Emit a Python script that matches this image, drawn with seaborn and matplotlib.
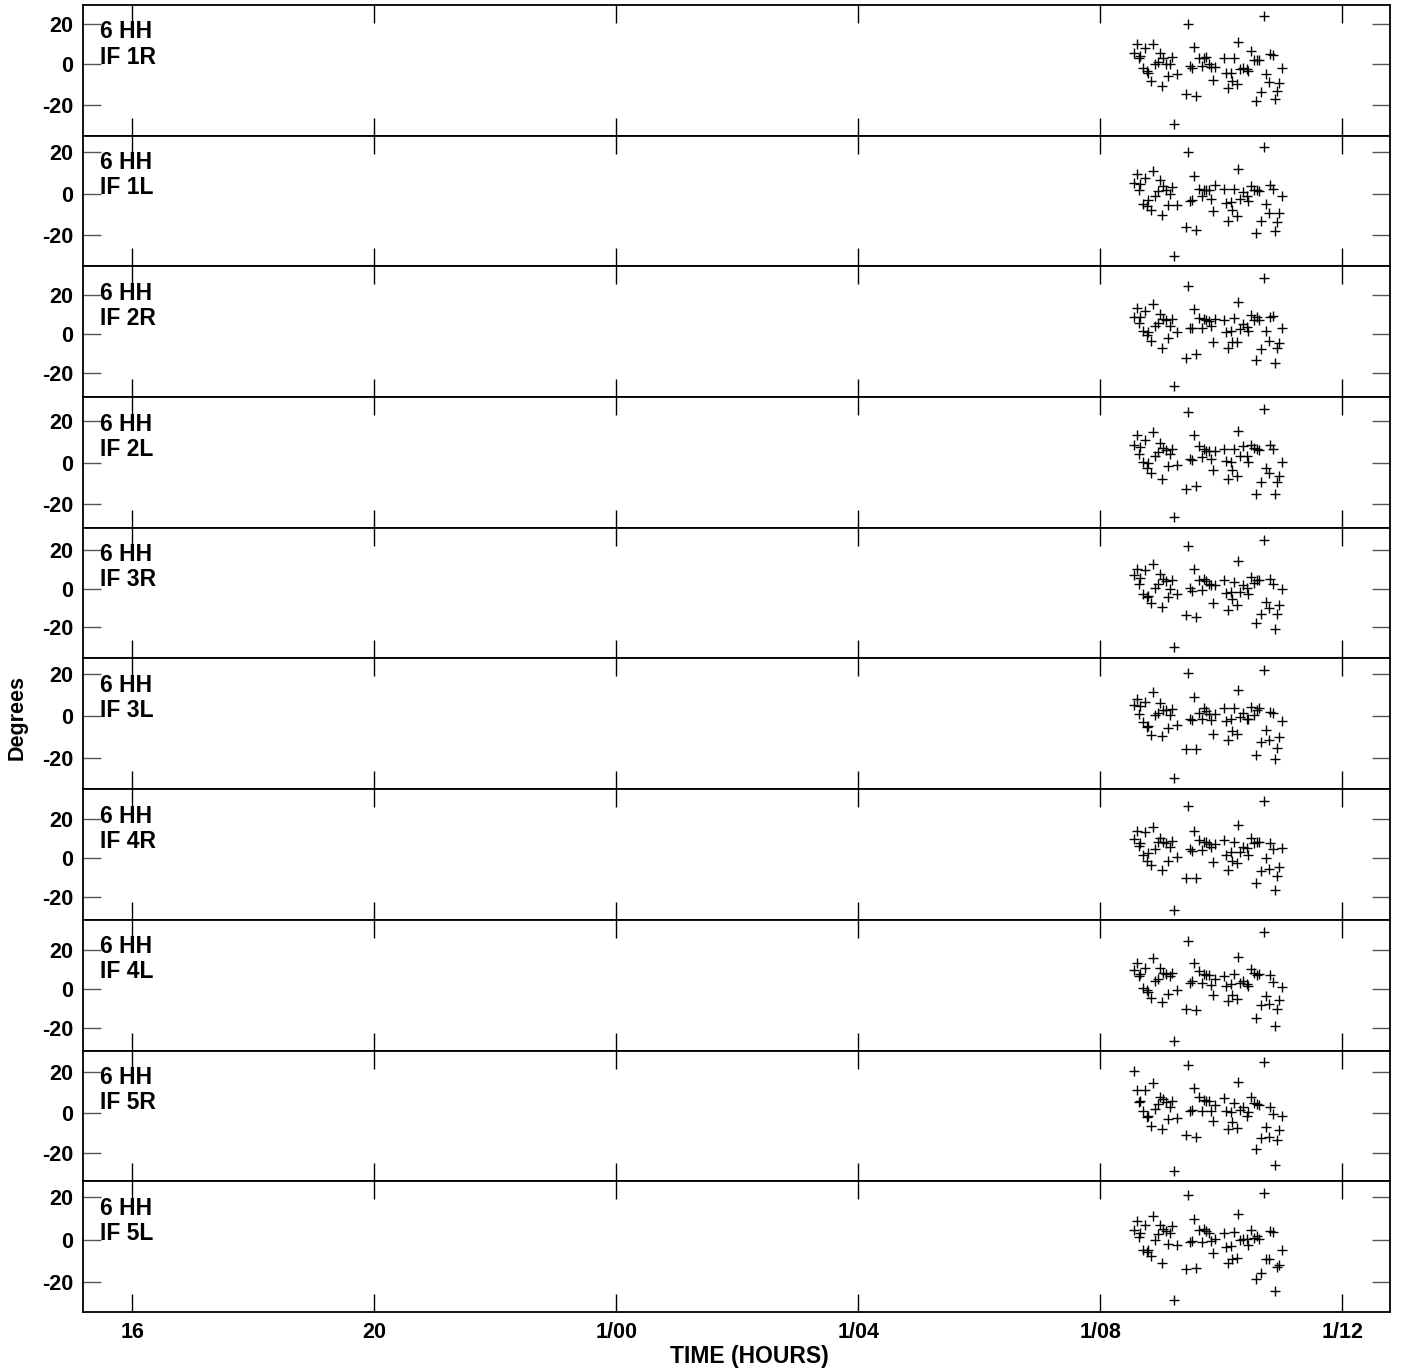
import matplotlib
matplotlib.use("Agg")
import matplotlib.pyplot as plt
import numpy as np
import pandas as pd
import seaborn as sns

# ---------------- data ----------------
times = [32.557, 32.601, 32.640, 32.662, 32.700, 32.739, 32.772, 32.794, 32.838, 32.866,
         32.910, 32.948, 32.987, 33.014, 33.042, 33.080, 33.125, 33.152, 33.191, 33.218,
         33.268, 33.417, 33.450, 33.477, 33.521, 33.554, 33.582, 33.637, 33.675, 33.720,
         33.742, 33.791, 33.830, 33.857, 33.896, 34.039, 34.083, 34.116, 34.155, 34.182,
         34.210, 34.254, 34.282, 34.315, 34.359, 34.425, 34.447, 34.485, 34.541, 34.568,
         34.590, 34.623, 34.656, 34.700, 34.744, 34.789, 34.811, 34.855, 34.893, 34.921,
         34.948, 34.998]

if_1r = [5.7, 10.0, 3.2, 4.0, -1.7, 8.2, -3.5, -4.2, -8.3, 10.3, 0.3, 1.2, 5.7, -10.8, 3.3, 0.3,
         -5.7, 0.2, 3.5, -29.8, -4.7, -15.0, 20.0, -1.0, -1.7, 8.5, -15.7, 3.2, -0.8, 3.3, 3.7, 0.0,
         -1.3, -7.7, -1.2, 3.2, -4.3, -11.7, -4.3, -8.5, 3.2, -9.7, 11.2, -2.5, -1.7, -2.5, -3.5, 6.8,
         2.0, -18.2, 2.0, 2.3, -13.8, 24.0, -4.7, -9.0, 5.3, 4.5, -17.3, -13.5, -9.3, -1.8]
if_1l = [5.1, 9.4, 1.8, 4.5, -5.0, 7.5, -6.1, -2.9, -7.8, 10.6, -1.4, 1.4, 6.6, -10.2, 3.8, 1.8,
         -5.4, -0.2, 3.0, -29.8, -5.4, -16.3, 19.8, -3.5, -2.9, 8.3, -17.3, 2.2, -1.4, 1.8, 1.8, 1.8,
         -2.6, -8.3, 4.2, 2.2, -4.6, -13.4, -4.2, -7.7, 2.2, -10.6, 11.7, -2.6, 0.6, -1.4, -3.8, 3.8,
         1.8, -19.0, 1.9, 1.0, -13.4, 22.2, -5.0, -9.4, 4.3, 2.2, -18.1, -13.8, -9.4, -1.4]
if_2r = [8.5, 13.2, 5.5, 8.5, 1.2, 11.5, -0.5, 0.9, -3.8, 15.4, 4.1, 5.5, 10.1, -7.2, 7.5, 7.2,
         -2.1, 4.1, 7.7, -26.7, 1.0, -12.6, 24.4, 2.7, 2.9, 12.6, -10.3, 8.0, 3.1, 7.5, 7.2, 6.7,
         3.8, -4.1, 7.7, 7.2, 0.7, -7.5, 1.5, -4.1, 8.0, -4.1, 16.4, 2.4, 5.1, 3.2, 1.2, 9.4,
         7.2, -13.3, 8.5, 7.2, -7.9, 28.5, 1.2, -3.6, 8.4, 8.9, -15.0, -7.4, -4.8, 3.1]
if_2l = [8.7, 13.3, 4.3, 7.6, 0.2, 11.1, -2.3, -0.2, -4.7, 14.6, 3.4, 5.0, 9.5, -7.6, 7.1, 6.3,
         -1.4, 4.3, 6.8, -25.9, -1.1, -12.7, 24.4, 1.8, 1.4, 13.3, -11.1, 8.2, 2.7, 6.6, 5.8, 5.5,
         1.9, -3.7, 5.5, 6.8, 1.0, -7.6, 0.6, -3.4, 6.8, -6.3, 15.4, 3.4, 7.9, 3.1, 0.6, 8.4,
         6.9, -14.8, 6.8, 5.9, -9.2, 26.0, -2.7, -5.0, 8.7, 6.6, -14.8, -9.2, -6.2, 0.3]
if_3r = [6.9, 10.1, 2.2, 5.3, -2.9, 9.6, -4.3, -3.8, -7.4, 12.5, 0.5, 2.2, 7.4, -9.4, 4.8, 3.9,
         -4.3, 0.0, 4.3, -30.0, -2.9, -13.7, 22.0, 0.2, -1.2, 9.9, -14.6, 4.5, -0.7, 5.1, 3.9, 2.2,
         1.7, -7.4, 1.7, 4.5, -2.2, -11.1, -1.7, -5.5, 3.6, -8.6, 14.2, -1.5, 1.9, 0.5, -2.9, 6.2,
         3.1, -17.7, 4.3, 4.3, -13.0, 25.0, -6.7, -9.8, 4.8, 2.6, -20.6, -12.9, -8.6, -0.3]
if_3l = [5.1, 8.0, 0.8, 4.8, -2.9, 6.8, -5.3, -4.8, -9.3, 11.6, 0.5, 1.6, 6.4, -9.8, 2.9, 2.7,
         -5.6, 0.5, 3.2, -29.7, -4.3, -15.8, 20.9, -1.6, -1.9, 9.3, -15.8, 1.3, -1.6, 3.7, 2.4, 1.1,
         -1.9, -8.5, 1.1, 4.0, -2.4, -11.4, -1.3, -7.2, 3.7, -8.8, 12.5, -0.3, 1.6, -1.3, -1.6, 4.5,
         0.5, -18.8, 2.7, 3.7, -12.4, 22.0, -6.9, -11.4, 2.1, 1.6, -20.9, -15.6, -10.1, -2.4]
if_4r = [9.9, 13.9, 6.5, 7.7, 1.9, 13.4, -1.2, 2.7, -3.4, 16.3, 4.8, 8.6, 10.5, -5.8, 8.2, 7.9,
         -1.5, 5.7, 8.7, -26.4, 0.5, -10.3, 27.1, 4.5, 3.9, 13.9, -10.3, 9.4, 4.3, 8.6, 8.2, 7.4,
         5.7, -1.7, 7.4, 9.4, 1.9, -6.0, 3.4, -1.5, 8.6, -2.4, 17.3, 3.4, 5.7, 5.1, 1.7, 10.3,
         7.9, -12.7, 8.2, 8.2, -6.7, 29.3, 0.0, -5.5, 7.9, 4.8, -16.1, -9.3, -4.6, 5.1]
if_4l = [9.8, 13.3, 6.9, 7.8, 0.5, 11.2, -0.3, -1.4, -4.3, 16.0, 4.3, 5.5, 11.2, -6.6, 8.3, 7.8,
         -2.6, 6.9, 8.6, -26.4, -0.3, -10.3, 24.7, 3.4, 4.3, 13.3, -10.7, 9.5, 3.1, 7.8, 7.2, 7.2,
         2.1, -3.1, 5.2, 6.9, 1.7, -6.2, 2.6, -3.1, 7.8, -4.8, 16.7, 3.1, 4.3, 2.9, 1.7, 10.7,
         8.6, -14.7, 7.2, 7.8, -8.1, 29.7, -3.4, -7.4, 7.4, 3.8, -18.6, -10.0, -5.7, 1.2]
if_5r = [20.9, 11.4, 5.6, 6.1, 1.0, 11.4, -1.8, -1.3, -6.5, 14.8, 2.0, 4.5, 8.1, -8.1, 6.8, 5.6,
         -3.2, 2.8, 6.1, -28.7, -2.7, -11.1, 23.9, 1.0, 1.2, 12.3, -11.9, 8.1, 1.0, 6.5, 6.1, 6.1,
         1.0, -3.8, 4.0, 7.3, 1.0, -8.1, 0.3, -4.3, 5.1, -7.3, 15.3, 1.2, 2.7, -1.3, 0.3, 8.1,
         4.8, -17.9, 4.5, 4.0, -12.4, 25.2, -6.8, -12.1, 2.8, -0.7, -25.5, -13.4, -8.5, -1.5]
if_5l = [4.6, 8.9, 1.4, 3.0, -4.6, 7.2, -5.7, -4.6, -7.7, 11.3, -0.2, 2.7, 6.9, -11.1, 4.9, 4.2,
         -2.0, 3.3, 6.6, -28.4, -2.5, -13.8, 21.0, -1.1, -0.6, 9.7, -13.5, 4.6, -0.9, 4.9, 4.1, 3.3,
         -0.6, -6.1, 0.2, 3.3, -3.3, -10.8, -2.8, -8.8, 3.5, -8.5, 12.4, -0.2, 0.6, 0.2, -2.5, 4.6,
         1.1, -18.5, 1.7, 0.3, -15.4, 22.3, -9.1, -8.8, 4.2, 3.5, -24.0, -13.0, -11.9, -4.9]

series = [if_1r, if_1l, if_2r, if_2l, if_3r, if_3l, if_4r, if_4l, if_5r, if_5l]
panel_labels = ["IF 1R", "IF 1L", "IF 2R", "IF 2L", "IF 3R", "IF 3L",
                "IF 4R", "IF 4L", "IF 5R", "IF 5L"]
station = "6 HH"
xticks = [16, 20, 24, 28, 32, 36]
xtick_labels = ["16", "20", "1/00", "1/04", "1/08", "1/12"]
yticks = [-20, 0, 20]
ytick_labels = ["-20", "0", "20"]

# ---------------- layout / style ----------------
ylims = [(-35.5, 29.5), (-35.0, 27.8), (-32.6, 34.5), (-31.2, 31.5), (-36.0, 31.4),
         (-35.2, 27.7), (-31.7, 35.5), (-31.5, 35.7), (-33.8, 30.8), (-34.0, 27.6)]
xlim = (15.185, 36.79)

sns.set_style("white")
plt.rcParams["font.family"] = ["Liberation Sans", "DejaVu Sans"]
plt.rcParams["axes.unicode_minus"] = False
plt.rcParams["text.color"] = "black"
plt.rcParams["xtick.labelcolor"] = "black"
plt.rcParams["ytick.labelcolor"] = "black"

fig, axes = plt.subplots(10, 1, figsize=(14.01, 13.70), dpi=100, sharex=True)
fig.subplots_adjust(left=0.0592, right=0.9922, top=0.99635, bottom=0.04234, hspace=0)

for i, ax in enumerate(axes):
    df = pd.DataFrame({"time": times, "deg": series[i]})
    sns.scatterplot(data=df, x="time", y="deg", ax=ax, marker="+", s=42,
                    color="black", linewidth=1.0, legend=False)
    ax.set_xlim(*xlim)
    ax.set_ylim(*ylims[i])
    ax.set_xlabel("")
    ax.set_ylabel("")
    ax.set_xticks(xticks)
    ax.set_yticks(yticks)
    ax.set_yticklabels(ytick_labels, fontsize=15.5, fontweight="bold", color="black")
    ax.tick_params(axis="x", direction="in", length=13, width=1.0, color="black",
                   top=True, bottom=True, pad=7)
    ax.tick_params(axis="y", direction="in", length=13, width=1.0, color="#555555",
                   left=True, right=True, pad=7)
    for sp in ax.spines.values():
        sp.set_visible(True)
        sp.set_linewidth(1.3)
        sp.set_color("black")
    ax.text(0.013, 0.794, station, transform=ax.transAxes, ha="left", va="center",
            fontsize=16.5, fontweight="bold", color="black")
    ax.text(0.013, 0.602, panel_labels[i], transform=ax.transAxes, ha="left", va="center",
            fontsize=16.5, fontweight="bold", color="black")

axes[-1].set_xticklabels(xtick_labels, fontsize=15.5, fontweight="bold", color="black")

fig.text(749 / 1401, 1 - 1357 / 1370, "TIME (HOURS)", ha="center", va="center",
         fontsize=16.5, fontweight="bold", color="black")
fig.text(17 / 1401, 1 - 718 / 1370, "Degrees", ha="center", va="center",
         rotation=90, fontsize=15.5, fontweight="bold", color="black")

fig.savefig("out.png", dpi=100)
